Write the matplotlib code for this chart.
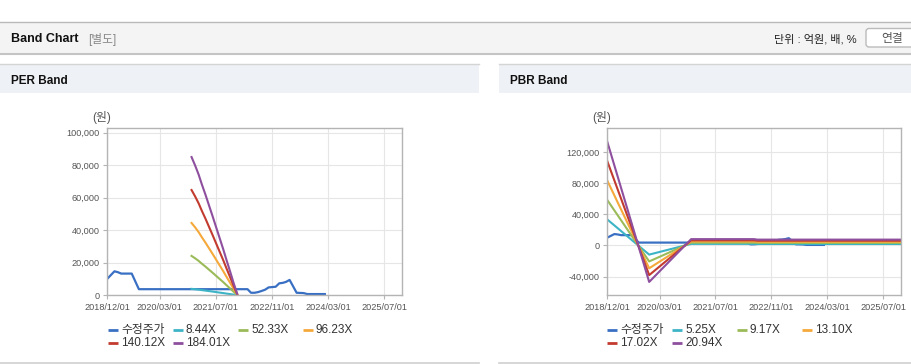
import numpy as np
import pandas as pd
import matplotlib
matplotlib.use('Agg')
import matplotlib.pyplot as plt
import matplotlib.dates as mdates
from matplotlib.patches import Rectangle, FancyBboxPatch
from matplotlib.ticker import FuncFormatter

plt.rcParams['font.family'] = ['Liberation Sans', 'Noto Sans CJK KR']

# 수정주가 (adjusted price), vertices
price_dates = ['2018-12-01', '2019-02-01', '2019-03-01', '2019-04-01', '2019-07-01',
               '2019-09-01', '2022-04-01', '2022-05-01', '2022-06-01', '2022-07-01',
               '2022-08-01', '2022-09-01', '2022-10-01', '2022-11-01', '2022-12-01',
               '2023-01-01', '2023-02-01', '2023-03-01', '2023-04-01', '2023-06-01',
               '2023-08-01', '2023-09-01', '2024-02-01']
price = [10100, 14700, 14200, 13300, 13300,
         3700, 3700, 1500, 1500, 1900,
         2600, 3400, 4800, 5000, 5200,
         7300, 7600, 8200, 9400, 1500,
         1300, 700, 700]

# PER band: EPS per month and multiples
eps_dates = ['2020-12-01', '2021-01-01', '2021-02-01', '2021-03-01', '2021-04-01',
             '2021-05-01', '2021-06-01', '2021-07-01', '2021-08-01', '2021-09-01',
             '2021-10-01', '2021-11-01', '2021-12-01', '2022-01-01']
eps = [462, 434, 403, 370, 336, 301, 265, 229, 192, 155, 117, 79, 41, 5]
per_multiples = [8.44, 52.33, 96.23, 140.12, 184.01]

# PBR band: BPS and multiples
bps_dates = ['2018-12-01', '2019-12-01', '2020-12-01', '2022-06-01', '2022-07-01', '2025-12-01']
bps = [6380, -2245, 390, 390, 360, 360]
pbr_multiples = [5.25, 9.17, 13.10, 17.02, 20.94]

tick_dates = ['2018/12/01', '2020/03/01', '2021/07/01', '2022/11/01', '2024/03/01', '2025/07/01']
colors = ['#3a70c3', '#3db4c6', '#9bbb59', '#f5a93b', '#c23b2e', '#8e4f9e']

fig = plt.figure(figsize=(9.12, 3.64), dpi=100)

# page background / headers in pixel coords
bg = fig.add_axes([0, 0, 1, 1])
bg.set_xlim(0, 912)
bg.set_ylim(364, 0)
bg.axis('off')

bg.add_patch(Rectangle((0, 22), 912, 31, fc='#f4f4f4', ec='none'))
bg.plot([0, 912], [22, 22], color='#b9b9b9', lw=1)
bg.plot([0, 912], [53.5, 53.5], color='#c4c4c4', lw=1.5)
bg.text(11, 39.5, 'Band Chart', fontsize=9, fontweight='bold', color='#111', va='center')
bg.text(88, 39.5, '[별도]', fontsize=8.5, color='#888', va='center')
bg.text(857, 39, '단위 : 억원, 배, %', fontsize=8, color='#222', va='center', ha='right')
bg.add_patch(FancyBboxPatch((866, 28.5), 52, 18.5, boxstyle='round,pad=0,rounding_size=3',
                            fc='white', ec='#bbbbbb', lw=1))
bg.text(892, 39, '연결', fontsize=8.5, color='#555', va='center', ha='center')

for x0, w, title in [(0, 479, 'PER Band'), (499, 413, 'PBR Band')]:
    bg.add_patch(Rectangle((x0, 64), w, 29, fc='#eef1f5', ec='none'))
    bg.plot([x0, x0 + w], [64.3, 64.3], color='#d4d4d4', lw=1)
    bg.plot([x0, x0 + w], [362.5, 362.5], color='#cfcfcf', lw=1.2)
    bg.text(x0 + 11.5, 80.5, title, fontsize=8.5, fontweight='bold', color='#111', va='center')


def band_axes(left, width, ylim, yticks):
    ax = fig.add_axes([left / 912, 1 - 295.2 / 364, width / 912, (295.2 - 128.3) / 364])
    ax.set_xlim(pd.Timestamp('2018-12-01'), pd.Timestamp('2025-12-04'))
    ax.set_ylim(*ylim)
    ax.set_yticks(yticks)
    ax.set_xticks(pd.to_datetime(tick_dates))
    ax.xaxis.set_major_formatter(mdates.DateFormatter('%Y/%m/%d'))
    ax.yaxis.set_major_formatter(FuncFormatter(lambda v, _: f'{v:,.0f}'))
    ax.grid(color='#e6e6e6', lw=0.8)
    ax.set_axisbelow(True)
    for s in ax.spines.values():
        s.set_color('#b4b4b4')
        s.set_linewidth(1)
    ax.tick_params(colors='#b4b4b4', labelcolor='#555', labelsize=6.6, length=3, width=0.8, pad=2.5)
    return ax


pd_price = pd.to_datetime(price_dates)

# PER
ax1 = band_axes(107.3, 295, (0, 102700), [0, 20000, 40000, 60000, 80000, 100000])
ax1.plot(pd_price, price, color=colors[0], lw=1.6)
for m, c in zip(per_multiples, colors[1:]):
    ax1.plot(pd.to_datetime(eps_dates), np.array(eps) * m, color=c, lw=1.5)

# PBR
ax2 = band_axes(607.3, 293.7, (-64100, 151000), [-40000, 0, 40000, 80000, 120000])
ax2.plot(pd_price, price, color=colors[0], lw=1.6)
for m, c in zip(pbr_multiples, colors[1:]):
    ax2.plot(pd.to_datetime(bps_dates), np.array(bps) * m, color=c, lw=1.5)

for cx in [102, 602]:
    bg.text(cx, 118, '(원)', fontsize=8.5, color='#555', ha='center', va='center')

# legends
per_labels = ['수정주가'] + [f'{m:.2f}X' for m in per_multiples]
pbr_labels = ['수정주가'] + [f'{m:.2f}X' for m in pbr_multiples]
for x0, labels in [(108, per_labels), (607, pbr_labels)]:
    for i, (lab, c) in enumerate(zip(labels, colors)):
        x = x0 + (i % 4) * 65
        y = 330 + (i // 4) * 13.3
        bg.plot([x, x + 10], [y, y], color=c, lw=2, solid_capstyle='butt')
        bg.text(x + 13, y, lab, fontsize=8.5, color='#333', va='center')

fig.savefig('out.png', dpi=100)
